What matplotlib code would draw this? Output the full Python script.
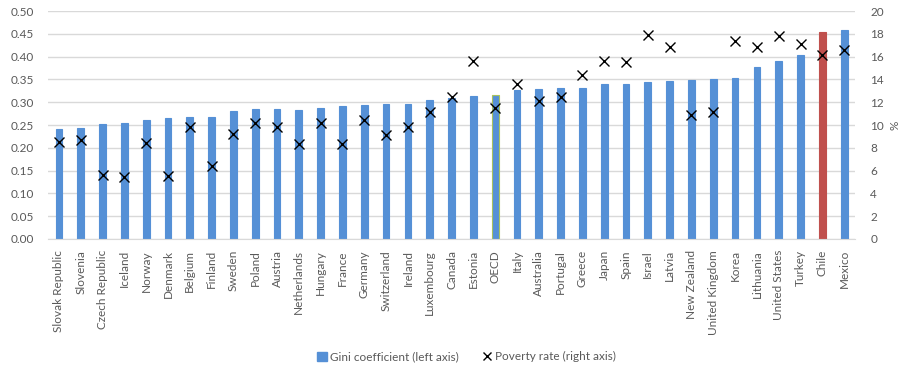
import matplotlib
matplotlib.use("Agg")
import matplotlib.pyplot as plt
import numpy as np
from matplotlib.lines import Line2D
from matplotlib.patches import Patch

countries = ["Slovak Republic", "Slovenia", "Czech Republic", "Iceland", "Norway", "Denmark",
             "Belgium", "Finland", "Sweden", "Poland", "Austria", "Netherlands", "Hungary",
             "France", "Germany", "Switzerland", "Ireland", "Luxembourg", "Canada", "Estonia",
             "OECD", "Italy", "Australia", "Portugal", "Greece", "Japan", "Spain", "Israel",
             "Latvia", "New Zealand", "United Kingdom", "Korea", "Lithuania", "United States",
             "Turkey", "Chile", "Mexico"]
gini = [0.241, 0.243, 0.252, 0.254, 0.262, 0.265, 0.267, 0.267, 0.281, 0.284, 0.284, 0.283,
        0.288, 0.291, 0.293, 0.295, 0.297, 0.305, 0.309, 0.314, 0.316, 0.327, 0.329, 0.331,
        0.331, 0.339, 0.341, 0.344, 0.346, 0.349, 0.351, 0.353, 0.377, 0.390, 0.404, 0.453, 0.458]
poverty = [8.5, 8.7, 5.6, 5.4, 8.4, 5.5, 9.8, 6.4, 9.2, 10.2, 9.8, 8.3,
           10.15, 8.3, 10.4, 9.1, 9.8, 11.1, 12.45, 15.6, 11.5, 13.6, 12.1, 12.45,
           14.4, 15.65, 15.5, 17.9, 16.8, 10.9, 11.1, 17.4, 16.8, 17.8, 17.1, 16.1, 16.6]

left_ticks = [0.00, 0.05, 0.10, 0.15, 0.20, 0.25, 0.30, 0.35, 0.40, 0.45, 0.50]
right_ticks = [0, 2, 4, 6, 8, 10, 12, 14, 16, 18, 20]

plt.rcParams['font.family'] = ['Lato', 'DejaVu Sans']
txt = '#595959'
blue = '#5590D6'
red = '#C0504D'
grid = '#D9D9D9'

fig = plt.figure(figsize=(9.01, 3.67), dpi=100)
ax = fig.add_axes([0.0533, 0.3488, 0.8957, 0.6212])
ax2 = ax.twinx()

x = np.arange(len(countries))
colors = [red if c == "Chile" else blue for c in countries]
edges = ['#A9C25D' if c == "OECD" else col for c, col in zip(countries, colors)]
ax.bar(x, gini, width=0.31, color=colors, edgecolor=edges, linewidth=0.8, zorder=2)
ax.set_ylim(0, 0.5)
ax.set_yticks(left_ticks)
ax.set_yticklabels([f"{v:.2f}" for v in left_ticks])
ax.set_xlim(-0.5, len(countries) - 0.5)
ax.set_xticks(x)
ax.set_xticklabels(countries, rotation=90)
ax.yaxis.grid(True, color=grid, linewidth=1.0, zorder=0)
ax.set_axisbelow(True)
for s in ['top', 'right', 'left']:
    ax.spines[s].set_visible(False)
ax.spines['bottom'].set_color(grid)
ax.tick_params(axis='both', length=0, colors=txt, labelsize=8.5)
ax.tick_params(axis='y', pad=10)
ax.tick_params(axis='x', pad=8)

ax2.plot(x, poverty, linestyle='none', marker='x', color='black', markersize=6.5, markeredgewidth=1.0, zorder=3)
ax2.set_ylim(0, 20)
ax2.set_yticks(right_ticks)
for s in ax2.spines.values():
    s.set_visible(False)
ax2.tick_params(axis='y', length=0, colors=txt, labelsize=8.5, pad=11)
ax2.set_ylabel('%', color=txt, fontsize=8.5, rotation=90, va='center', ha='center')
ax2.yaxis.set_label_coords(1.049, 0.5)

handles = [Patch(facecolor=blue, edgecolor=blue),
           Line2D([], [], linestyle='none', marker='x', color='black', markersize=6, markeredgewidth=1.0)]
fig.legend(handles, ["Gini coefficient (left axis)", "Poverty rate (right axis)"],
           loc='center', bbox_to_anchor=(0.518, 0.028), ncol=2, frameon=False,
           fontsize=8.5, labelcolor=txt, handlelength=0.8, handletextpad=0.3,
           columnspacing=2.0, handleheight=0.8)

fig.savefig('out.png', dpi=100)
